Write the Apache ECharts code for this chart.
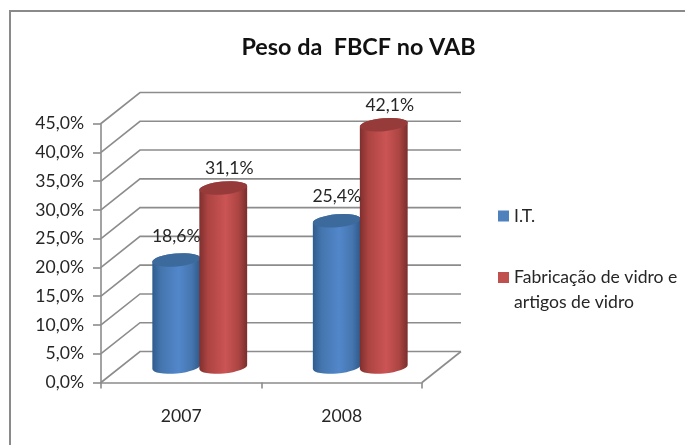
<!DOCTYPE html>
<html><head><meta charset="utf-8">
<style>html,body{margin:0;padding:0;background:#fff}#c{width:685px;height:445px}</style>
<script src="https://cdn.jsdelivr.net/npm/echarts@6/dist/echarts.min.js"></script>
</head><body><div id="c"></div>
<script>
const categories = ['2007', '2008'];
const itValues = [18.6, 25.4];
const vidroValues = [31.1, 42.1];
const yTicks = [0, 5, 10, 15, 20, 25, 30, 35, 40, 45];
const seriesNames = ['I.T.', 'Fabricação de vidro e artigos de vidro'];
const titleText = 'Peso da  FBCF no VAB';

const FONT = 'Lato';
const FS = 17.6;
const TEXT = '#262626';
const GRID = '#8c8c8c';
const DX = 39, DY = -31;        // depth of the 3D box
const RX = 24, RY = 6.5, TILT = -5; // cylinder ellipse
const pct = v => v.toFixed(1).replace('.', ',') + '%';

function wallLines(params, api) {
  const v = api.value(0);
  const cs = params.coordSys;
  const y = api.coord([0, v])[1];
  const x0 = cs.x, x1 = cs.x + cs.width;
  const style = { stroke: GRID, lineWidth: 1.6, fill: null };
  const kids = [
    { type: 'polyline', shape: { points: [[x0, y], [x0 + DX, y + DY], [x1 + DX, y + DY]] }, style }
  ];
  if (v === 0) kids.push({ type: 'line', shape: { x1: x1, y1: y, x2: x1 + DX, y2: y + DY }, style });
  return { type: 'group', silent: true, children: kids };
}

function cylinder(side, stops, topColor, labelDx, labelDy) {
  return function (params, api) {
    const p = api.coord([api.value(0), api.value(1)]);
    const base = api.coord([api.value(0), 0]);
    const cx = base[0] + 18.5 + side * 23.5;
    const by = base[1] + DY / 2;
    const ty = p[1] + DY / 2;
    const a = TILT * Math.PI / 180;
    const ex = RX * Math.cos(a), ey = RX * Math.sin(a);
    const body = `M ${cx - ex} ${ty - ey} L ${cx - ex} ${by - ey} ` +
      `A ${RX} ${RY} ${TILT} 0 0 ${cx + ex} ${by + ey} L ${cx + ex} ${ty + ey} ` +
      `A ${RX} ${RY} ${TILT} 0 0 ${cx - ex} ${ty - ey} Z`;
    const top = `M ${cx - ex} ${ty - ey} A ${RX} ${RY} ${TILT} 1 1 ${cx + ex} ${ty + ey} ` +
      `A ${RX} ${RY} ${TILT} 1 1 ${cx - ex} ${ty - ey} Z`;
    return {
      type: 'group',
      children: [
        { type: 'path', shape: { pathData: body },
          style: { fill: { type: 'linear', x: 0, y: 0, x2: 1, y2: 0, colorStops: stops } } },
        { type: 'path', shape: { pathData: top }, style: { fill: topColor } },
        { type: 'text', z2: 100, style: { text: pct(api.value(1)), x: cx + labelDx, y: ty + labelDy,
            align: 'center', verticalAlign: 'middle', font: `${FS}px ${FONT}`, fill: TEXT } }
      ]
    };
  };
}

const blueStops = [
  { offset: 0, color: '#2f5c8e' }, { offset: 0.18, color: '#4475ad' },
  { offset: 0.55, color: '#5287cb' }, { offset: 0.82, color: '#4676b0' }, { offset: 1, color: '#2e5a8a' }
];
const redStops = [
  { offset: 0, color: '#7e2f2e' }, { offset: 0.18, color: '#ac4442' },
  { offset: 0.55, color: '#cb5454' }, { offset: 0.82, color: '#ab4543' }, { offset: 1, color: '#7a2d2c' }
];

const chart = echarts.init(document.getElementById('c'), null, { renderer: 'canvas' });
chart.setOption({
  animation: false,
  backgroundColor: '#fff',
  textStyle: { fontFamily: FONT },
  title: { text: titleText, left: 353.5, textAlign: 'center', top: 31,
    textStyle: { fontFamily: FONT, fontSize: 23.4, fontWeight: 'bold', color: '#111' } },
  grid: { left: 101, top: 123.5, width: 321, height: 259 },
  xAxis: { type: 'category', data: categories, boundaryGap: true,
    axisLine: { lineStyle: { color: GRID, width: 1.6 } },
    axisTick: { show: true, alignWithLabel: false, length: 6, lineStyle: { color: GRID, width: 1.6 } },
    axisLabel: { color: TEXT, fontSize: FS, fontFamily: FONT, margin: 25 },
    splitLine: { show: false } },
  yAxis: { type: 'value', min: 0, max: 45, interval: 5,
    axisLine: { show: true, lineStyle: { color: GRID, width: 1.6 } },
    axisTick: { show: true, length: 8, lineStyle: { color: GRID, width: 1.6 } },
    axisLabel: { color: TEXT, fontSize: FS, fontFamily: FONT, margin: 17, padding: [4, 0, 0, 0], formatter: v => pct(v) },
    splitLine: { show: false } },
  legend: [
    { data: [seriesNames[0]], left: 498, top: 207, padding: 0, itemWidth: 11, itemHeight: 11, itemGap: 0,
      icon: 'rect', selectedMode: false,
      textStyle: { color: TEXT, fontSize: FS, fontFamily: FONT } },
    { data: [seriesNames[1]], left: 498, top: 240, padding: 0, itemWidth: 11, itemHeight: 11, itemGap: 0,
      icon: 'rect', selectedMode: false,
      formatter: () => '\nFabricação de vidro e\nartigos de vidro',
      textStyle: { color: TEXT, fontSize: FS, lineHeight: 25, fontFamily: FONT } }
  ],
  graphic: [
    { type: 'polyline', silent: true, z: 0, shape: { points: [[10, 445], [10, 11], [685, 11]] },
      style: { stroke: '#8a8a8a', lineWidth: 2, fill: null } }
  ],
  series: [
    { type: 'custom', name: 'walls', silent: true, z: 1, clip: false,
      renderItem: wallLines, data: yTicks.map(v => [v]), encode: { y: 0 } },
    { type: 'custom', name: seriesNames[0], clip: false, itemStyle: { color: '#4f81bd' },
      renderItem: cylinder(-1, blueStops, '#3d6a9d', 0, -24),
      data: categories.map((c, i) => [i, itValues[i]]), encode: { x: 0, y: 1 } },
    { type: 'custom', name: seriesNames[1], clip: false, itemStyle: { color: '#c0504d' },
      renderItem: cylinder(1, redStops, '#973b3a', 6, -19.5),
      data: categories.map((c, i) => [i, vidroValues[i]]), encode: { x: 0, y: 1 } }
  ]
});
</script></body></html>
